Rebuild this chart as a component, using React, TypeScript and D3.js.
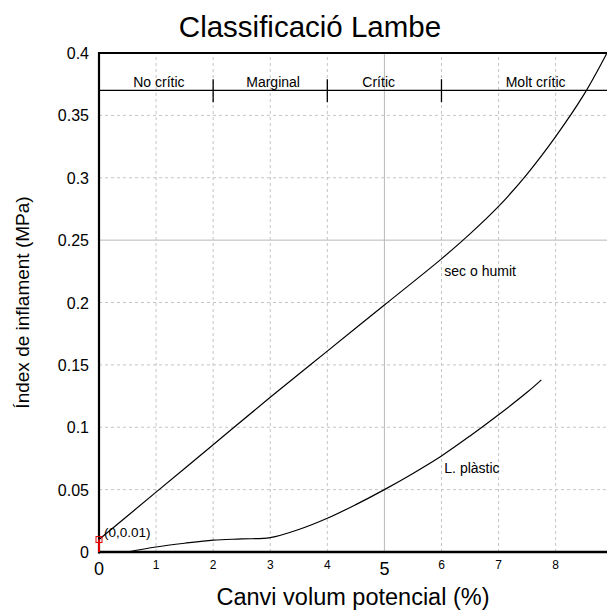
import {useEffect, useRef} from "react"
import * as d3 from "d3"

const width = 607
const height = 612
const margins = {left: 99, right: 0, top: 53, bottom: 60}

const xMax = 8.9
const yMax = 0.4

const minorXTicks = [1, 2, 3, 4, 6, 7, 8]
const majorXTicks = [0, 5]
const yTicks = [0, 0.05, 0.1, 0.15, 0.2, 0.25, 0.3, 0.35, 0.4]
const yTickLabels = ["0", "0.05", "0.1", "0.15", "0.2", "0.25", "0.3", "0.35", "0.4"]
const solidYGrid = [0.25]
const solidXGrid = [5]

// bands of the classification line at the top
const bandLevel = 0.37
const bandDividers = [2, 4, 6]
const bandLabels = ["No crític", "Marginal", "Crític", "Molt crític"]
const bandLabelX = [1.05, 3.05, 4.9, 7.65]

// "sec o humit" curve
const dryX = [0, 1, 2, 3, 4, 5, 6, 6.5, 7, 7.5, 8, 8.5, 8.9]
const dryY = [0.01, 0.048, 0.086, 0.124, 0.161, 0.198, 0.235, 0.255, 0.277, 0.303, 0.333, 0.367, 0.4]

// "L. plàstic" curve
const plasticX = [0.5, 1, 1.5, 2, 2.5, 3, 3.5, 4, 4.5, 5, 5.5, 6, 6.5, 7, 7.5, 7.75]
const plasticY = [0, 0.004, 0.007, 0.0095, 0.0105, 0.0115, 0.018, 0.027, 0.038, 0.05, 0.063, 0.077, 0.093, 0.11, 0.128, 0.138]

const markerPoint = {x: 0, y: 0.01, label: "(0,0.01)"}

const App = () => {
  const ref = useRef<SVGSVGElement>(null)

  useEffect(() => {
    const svg = d3.select(ref.current)
    svg.selectAll("*").remove()

    const x = d3.scaleLinear().domain([0, xMax]).range([margins.left, width - margins.right])
    const y = d3.scaleLinear().domain([0, yMax]).range([height - margins.bottom, margins.top])
    const font = "Liberation Sans, Arial, sans-serif"

    const grid = svg.append("g")
    grid
      .selectAll("line.vx")
      .data(minorXTicks)
      .join("line")
      .attr("x1", (d) => x(d))
      .attr("x2", (d) => x(d))
      .attr("y1", y(0))
      .attr("y2", y(yMax))
      .attr("stroke", "#c4c4c4")
      .attr("stroke-dasharray", "3,3")
    grid
      .selectAll("line.hy")
      .data(yTicks.filter((t) => t > 0 && t < yMax && !solidYGrid.includes(t)))
      .join("line")
      .attr("x1", x(0))
      .attr("x2", x(xMax))
      .attr("y1", (d) => y(d))
      .attr("y2", (d) => y(d))
      .attr("stroke", "#c4c4c4")
      .attr("stroke-dasharray", "3,3")
    for (const t of solidXGrid) {
      grid.append("line").attr("x1", x(t)).attr("x2", x(t)).attr("y1", y(0)).attr("y2", y(yMax)).attr("stroke", "#b8b8b8")
    }
    for (const t of solidYGrid) {
      grid.append("line").attr("x1", x(0)).attr("x2", x(xMax)).attr("y1", y(t)).attr("y2", y(t)).attr("stroke", "#b8b8b8")
    }

    // classification band
    svg.append("line").attr("x1", x(0)).attr("x2", x(xMax)).attr("y1", y(bandLevel)).attr("y2", y(bandLevel)).attr("stroke", "black").attr("stroke-width", 1.3)
    svg
      .selectAll("line.div")
      .data(bandDividers)
      .join("line")
      .attr("x1", (d) => x(d))
      .attr("x2", (d) => x(d))
      .attr("y1", y(0.379))
      .attr("y2", y(0.3605))
      .attr("stroke", "black")
      .attr("stroke-width", 1.3)
    svg
      .selectAll("text.band")
      .data(bandLabels)
      .join("text")
      .attr("x", (_, i) => x(bandLabelX[i]))
      .attr("y", y(bandLevel) - 3)
      .attr("text-anchor", "middle")
      .attr("font-family", font)
      .attr("font-size", 14)
      .text((d) => d)

    const line = d3
      .line<[number, number]>()
      .x((d) => x(d[0]))
      .y((d) => y(d[1]))
      .curve(d3.curveCatmullRom)

    svg
      .append("path")
      .attr("d", line(dryX.map((v, i) => [v, dryY[i]] as [number, number])))
      .attr("fill", "none")
      .attr("stroke", "black")
      .attr("stroke-width", 1.2)
    svg
      .append("path")
      .attr("d", line(plasticX.map((v, i) => [v, plasticY[i]] as [number, number])))
      .attr("fill", "none")
      .attr("stroke", "black")
      .attr("stroke-width", 1.2)

    svg.append("text").attr("x", x(6.05)).attr("y", y(0.221)).attr("font-family", font).attr("font-size", 14).text("sec o humit")
    svg.append("text").attr("x", x(6.05)).attr("y", y(0.063)).attr("font-family", font).attr("font-size", 14).text("L. plàstic")

    // axes
    svg.append("line").attr("x1", x(0)).attr("x2", x(0)).attr("y1", y(0) + 1.5).attr("y2", y(yMax) - 1).attr("stroke", "black").attr("stroke-width", 2.2)
    svg.append("line").attr("x1", x(0)).attr("x2", x(xMax)).attr("y1", y(0)).attr("y2", y(0)).attr("stroke", "black").attr("stroke-width", 2.5)
    svg.append("line").attr("x1", x(0)).attr("x2", x(xMax)).attr("y1", y(yMax)).attr("y2", y(yMax)).attr("stroke", "black").attr("stroke-width", 2)

    // red marker
    svg.append("line").attr("x1", x(0)).attr("x2", x(0)).attr("y1", y(0)).attr("y2", y(markerPoint.y)).attr("stroke", "#e00000").attr("stroke-width", 2)
    svg
      .append("rect")
      .attr("x", x(markerPoint.x) - 3)
      .attr("y", y(markerPoint.y) - 3)
      .attr("width", 6)
      .attr("height", 6)
      .attr("fill", "none")
      .attr("stroke", "#e00000")
      .attr("stroke-width", 1)
    svg
      .append("text")
      .attr("x", x(markerPoint.x) + 5)
      .attr("y", y(markerPoint.y) - 3)
      .attr("font-family", font)
      .attr("font-size", 13.5)
      .text(markerPoint.label)

    // tick labels
    svg
      .selectAll("text.yt")
      .data(yTicks)
      .join("text")
      .attr("x", x(0) - 10)
      .attr("y", (d) => y(d) + 6)
      .attr("text-anchor", "end")
      .attr("font-family", font)
      .attr("font-size", 16)
      .text((_, i) => yTickLabels[i])
    svg
      .selectAll("text.xmin")
      .data(minorXTicks)
      .join("text")
      .attr("x", (d) => x(d))
      .attr("y", y(0) + 17)
      .attr("text-anchor", "middle")
      .attr("font-family", font)
      .attr("font-size", 12)
      .text((d) => d)
    svg
      .selectAll("text.xmaj")
      .data(majorXTicks)
      .join("text")
      .attr("x", (d) => x(d))
      .attr("y", y(0) + 23)
      .attr("text-anchor", "middle")
      .attr("font-family", font)
      .attr("font-size", 18)
      .text((d) => d)

    // titles
    svg.append("text").attr("x", 310).attr("y", 37).attr("text-anchor", "middle").attr("font-family", font).attr("font-size", 29.5).text("Classificació Lambe")
    svg
      .append("text")
      .attr("x", (x(0) + x(xMax)) / 2)
      .attr("y", 605)
      .attr("text-anchor", "middle")
      .attr("font-family", font)
      .attr("font-size", 23.5)
      .text("Canvi volum potencial (%)")
    svg
      .append("text")
      .attr("transform", `translate(29,${(y(0) + y(yMax)) / 2}) rotate(-90)`)
      .attr("text-anchor", "middle")
      .attr("font-family", font)
      .attr("font-size", 19)
      .text("Índex de inflament (MPa)")
  }, [])

  return (
    <svg
      ref={ref}
      width={width}
      height={height}
      style={{position: "absolute", left: 0, top: 0, background: "white"}}
    />
  )
}

export default App
